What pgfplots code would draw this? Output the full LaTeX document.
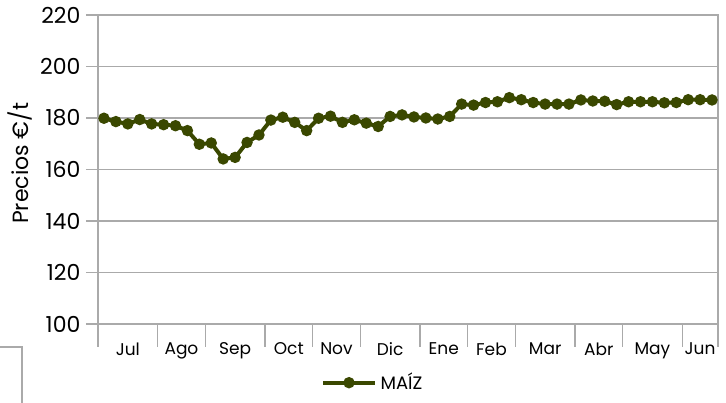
\documentclass[border=0pt]{standalone}
\usepackage{fontspec}
\setmainfont{Poppins}
\usepackage{pgfplots}
\pgfplotsset{compat=1.18}
\definecolor{maiz}{RGB}{58,72,0}
\definecolor{gridgray}{RGB}{170,170,170}

\begin{document}
\begin{tikzpicture}
\begin{axis}[
  scale only axis,
  width=310pt, height=154.5pt,
  xmin=0, xmax=52,
  ymin=100, ymax=220,
  ytick={100,120,...,220},
  xtick={0,5,9,14,18,22,27,31,35,40,44,49,52},
  xticklabels={Jul,Ago,Sep,Oct,Nov,Dic,Ene,Feb,Mar,Abr,May,Jun},
  x tick label as interval,
  tick align=outside,
  x tick style={gridgray, line width=0.6pt, /pgfplots/major tick length=11.5pt},
  y tick style={gridgray, line width=0.6pt, /pgfplots/major tick length=6pt},
  ymajorgrids=true,
  grid style={gridgray, line width=0.6pt},
  axis line style={gridgray, line width=0.6pt},
  xtick pos=bottom, ytick pos=left,
  /pgf/number format/assume math mode=true,
  yticklabel style={font=\fontsize{11}{13}\selectfont, xshift=-1pt},
  xticklabel style={font=\fontsize{8.5}{10}\selectfont, yshift=-1.5pt},
  ylabel={Precios €/t},
  ylabel style={font=\fontsize{11}{13}\selectfont, at={(axis description cs:-0.126,0.52)}, anchor=center},
  legend style={at={(axis description cs:0.445,-0.19)}, anchor=center, draw=none,
    font=\fontsize{9}{11}\selectfont, fill=none},
  legend image code/.code={\draw[#1, mark repeat=2, mark phase=2] plot coordinates {(0cm,0cm) (0.45cm,0cm) (0.9cm,0cm)};},
]
\addplot[color=maiz, line width=2pt, mark=*, mark size=1.8pt, mark options={fill=maiz, draw=maiz}] coordinates {
(0.5,179.9) (1.5,178.6) (2.5,177.7) (3.5,179.4) (4.5,177.7) (5.5,177.4) (6.5,177.0) (7.5,175.1)
(8.5,169.8) (9.5,170.3) (10.5,164.1) (11.5,164.7) (12.5,170.5) (13.5,173.4) (14.5,179.2) (15.5,180.3)
(16.5,178.3) (17.5,175.1) (18.5,179.9) (19.5,180.7) (20.5,178.3) (21.5,179.3) (22.5,178.0) (23.5,176.7)
(24.5,180.6) (25.5,181.2) (26.5,180.4) (27.5,180.0) (28.5,179.6) (29.5,180.6) (30.5,185.4) (31.5,185.0)
(32.5,186.0) (33.5,186.3) (34.5,187.9) (35.5,187.1) (36.5,186.0) (37.5,185.4) (38.5,185.4) (39.5,185.4)
(40.5,187.0) (41.5,186.6) (42.5,186.5) (43.5,185.2) (44.5,186.3) (45.5,186.3) (46.5,186.3) (47.5,185.9)
(48.5,186.0) (49.5,187.1) (50.5,187.1) (51.5,187.0)
};
\legend{MAÍZ}
\coordinate (bl) at (rel axis cs:-0.15806,-0.25566);
\coordinate (tr) at (rel axis cs:1.01290,1.04854);
\coordinate (f1) at (rel axis cs:-0.15806,-0.0744);
\coordinate (f2) at (rel axis cs:-0.1226,-0.0744);
\coordinate (f3) at (rel axis cs:-0.1226,-0.26);
\end{axis}
\draw[gridgray, line width=0.6pt] (f1) -- (f2) -- (f3);
\pgfresetboundingbox
\path[use as bounding box] (bl) rectangle (tr);
\end{tikzpicture}
\end{document}
